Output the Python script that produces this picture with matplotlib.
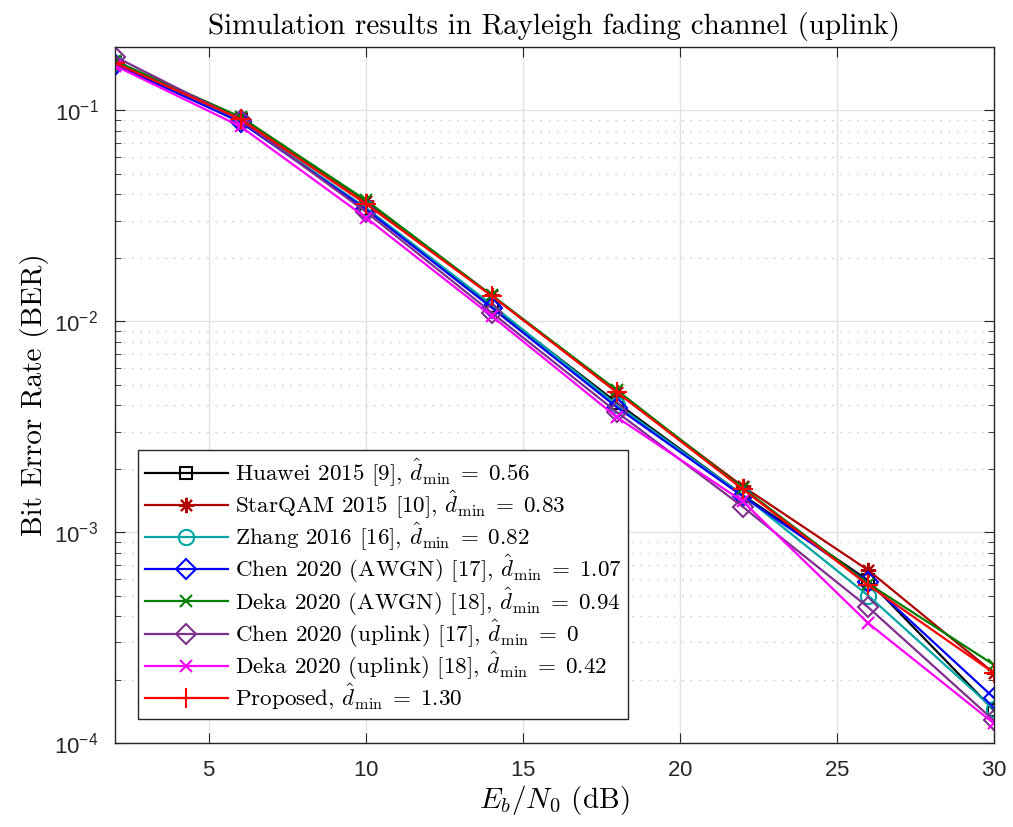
import matplotlib
matplotlib.use("Agg")
import matplotlib.pyplot as plt
from matplotlib.ticker import FixedLocator, FuncFormatter, LogLocator, NullFormatter
import numpy as np

plt.rcParams['mathtext.fontset'] = 'cm'
plt.rcParams['axes.formatter.use_mathtext'] = True

# Eb/N0 sample points (dB)
ebn0 = [2, 6, 10, 14, 18, 22, 26, 30]

# BER curves
ber_huawei = [0.168, 0.090, 0.034, 0.0118, 0.0041, 0.00150, 0.00059, 0.000143]
ber_starqam = [0.170, 0.093, 0.037, 0.0133, 0.0046, 0.00165, 0.00066, 0.000215]
ber_zhang = [0.168, 0.089, 0.0345, 0.0120, 0.0040, 0.00150, 0.00050, 0.000145]
ber_chen_awgn = [0.165, 0.088, 0.034, 0.0116, 0.0039, 0.00148, 0.00058, 0.000164]
ber_deka_awgn = [0.172, 0.093, 0.0375, 0.0133, 0.0047, 0.00162, 0.00057, 0.000235]
ber_chen_uplink = [0.180, 0.090, 0.033, 0.0110, 0.0037, 0.00132, 0.00044, 0.000128]
ber_deka_uplink = [0.163, 0.084, 0.031, 0.0106, 0.0035, 0.00140, 0.00037, 0.000124]
ber_proposed = [0.168, 0.091, 0.036, 0.0132, 0.0046, 0.00160, 0.00056, 0.000215]

labels = [
    r'Huawei 2015 [9], $\hat{d}_{\min}\;=\;0.56$',
    r'StarQAM 2015 [10], $\hat{d}_{\min}\;=\;0.83$',
    r'Zhang 2016 [16], $\hat{d}_{\min}\;=\;0.82$',
    r'Chen 2020 (AWGN) [17], $\hat{d}_{\min}\;=\;1.07$',
    r'Deka 2020 (AWGN) [18], $\hat{d}_{\min}\;=\;0.94$',
    r'Chen 2020 (uplink) [17], $\hat{d}_{\min}\;=\;0$',
    r'Deka 2020 (uplink) [18], $\hat{d}_{\min}\;=\;0.42$',
    r'Proposed, $\hat{d}_{\min}\;=\;1.30$',
]

series = [ber_huawei, ber_starqam, ber_zhang, ber_chen_awgn,
          ber_deka_awgn, ber_chen_uplink, ber_deka_uplink, ber_proposed]
colors = ['black', '#B00000', '#00A6A6', '#0000FF', '#008000', '#7E2F8E', '#FF00FF', '#FF0000']
markers = ['s', (8, 2, 0), 'o', 'D', 'x', 'D', 'x', '+']
msizes = [9, 11, 11, 10, 9, 10, 9, 14]

fig = plt.figure(figsize=(10.13, 8.27), dpi=100)
ax = fig.add_axes([0.1135, 0.1016, 0.8675, 0.8416])

for y, c, m, ms, lab in zip(series, colors, markers, msizes, labels):
    ax.semilogy(ebn0, y, color=c, marker=m, markersize=ms, markerfacecolor='none',
                markeredgecolor=c, markeredgewidth=1.5, linewidth=1.6, label=lab)

ax.set_xlim(2, 30)
ax.set_ylim(1e-4, 0.2)
ax.xaxis.set_major_locator(FixedLocator([5, 10, 15, 20, 25, 30]))
ax.yaxis.set_major_locator(LogLocator(base=10, numticks=10))
ax.yaxis.set_minor_locator(LogLocator(base=10, subs=np.arange(2, 10), numticks=20))
ax.yaxis.set_minor_formatter(NullFormatter())
ax.yaxis.set_major_formatter(FuncFormatter(
    lambda v, p: r'$\mathregular{10^{%d}}$' % int(round(np.log10(v)))))

ax.grid(True, which='major', color='#E3E3E3', linestyle='-', linewidth=1.0)
ax.grid(True, which='minor', axis='y', color='#C4C4C4', linestyle=(0, (1, 5)), linewidth=1.0)
ax.set_axisbelow(True)

for s in ax.spines.values():
    s.set_color('#262626')
    s.set_linewidth(1.0)
ax.tick_params(which='both', direction='in', top=True, right=True, colors='#262626',
               labelsize=16)
ax.tick_params(which='major', length=7)
ax.tick_params(which='minor', length=4)
ax.tick_params(axis='x', which='major', pad=12)
ax.tick_params(axis='y', which='major', pad=12)
for lbl in ax.get_xticklabels() + ax.get_yticklabels():
    lbl.set_fontfamily('Liberation Sans')
    lbl.set_color('#262626')

ax.set_title('Simulation results in Rayleigh fading channel (uplink)',
             fontfamily='cmr10', fontsize=21, pad=9)
ax.set_xlabel(r'$E_b/N_0$ (dB)', fontfamily='cmr10', fontsize=21, labelpad=2)
ax.set_ylabel('Bit Error Rate (BER)', fontfamily='cmr10', fontsize=21, labelpad=4)

leg = ax.legend(loc='lower left', bbox_to_anchor=(0.026, 0.034),
                prop={'family': 'cmr10', 'size': 16.6}, handlelength=3.6,
                labelspacing=0.0, borderpad=0.3, handletextpad=0.3,
                fancybox=False, framealpha=1, edgecolor='#262626', borderaxespad=0)
leg.get_frame().set_linewidth(1.0)

fig.savefig('out.png', dpi=100)
